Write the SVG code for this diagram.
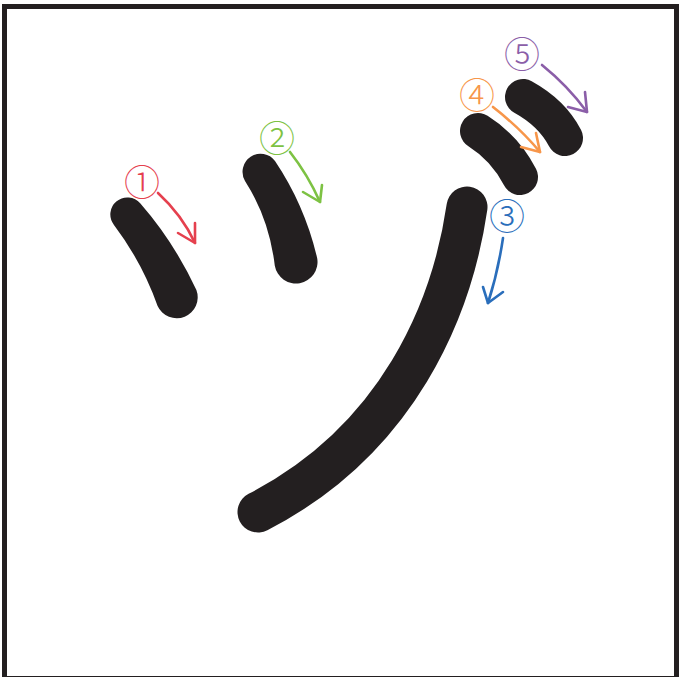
<svg xmlns="http://www.w3.org/2000/svg" width="679" height="677" viewBox="0 0 679 677">
<style>
.st{fill:none;stroke:#231f20;stroke-linecap:round;stroke-linejoin:round}
.sf{fill:#231f20;stroke:none}
.ar{fill:none;stroke-width:2.6;stroke-linecap:round;stroke-linejoin:round}
.num{font-family:"Noto Sans CJK JP","DejaVu Sans",sans-serif;font-size:36px;font-weight:300;text-anchor:middle;dominant-baseline:central}
</style>
<rect x="0" y="0" width="679" height="677" fill="#fff"/>
<rect x="4.5" y="6.5" width="672" height="672" fill="none" stroke="#231f20" stroke-width="5"/>
<g id="stroke1"><path class="sf" d="M140.2,203.3 Q174,242 196.4,290 A21,21 0 0 1 157.6,306 Q142,262 113.8,224.7 A17,17 0 0 1 140.2,203.3 Z"/></g>
<g id="stroke2"><path class="sf" d="M275,161.1 Q304.7,205.2 317.2,258.2 A21.5,21.5 0 0 1 274.8,265.8 Q269.3,218.8 245,180.9 A18,18 0 0 1 275,161.1 Z"/></g>
<g id="stroke3"><path class="st" stroke-width="41" d="M467,207 C452,310 398,440 258,512"/></g>
<g id="stroke4"><path class="st" stroke-width="36" d="M478,131 Q505,148 520,177"/></g>
<g id="stroke5"><path class="st" stroke-width="36" d="M523,97 Q552,113 565,138"/></g>
<g id="label1"><text class="num" x="142" y="180" fill="#e5404e">①</text></g>
<g id="label2"><text class="num" x="277" y="136" fill="#7dc243">②</text></g>
<g id="label3"><text class="num" x="507" y="214" fill="#2a6ebb">③</text></g>
<g id="label4"><text class="num" x="477" y="93" fill="#f7964a">④</text></g>
<g id="label5"><text class="num" x="522" y="52" fill="#8b5ea8">⑤</text></g>
<g id="connectors">
<g stroke="#e5404e" class="ar"><path d="M158,193 Q182,215 195,243"/><path d="M195,223 L195,243 L178,233"/></g>
<g stroke="#7dc243" class="ar"><path d="M290,152 Q308,175 320,202"/><path d="M322,185 L320,202 L303,192"/></g>
<g stroke="#2a6ebb" class="ar"><path d="M503,238 Q498,272 488,303"/><path d="M503,292 L488,303 L483,287"/></g>
<g stroke="#f7964a" class="ar"><path d="M493,107 Q520,128 540,152"/><path d="M536,133 L540,152 L521,147"/></g>
<g stroke="#8b5ea8" class="ar"><path d="M542,65 Q568,86 587,112"/><path d="M585,92 L587,112 L568,107"/></g>
</g>
</svg>
